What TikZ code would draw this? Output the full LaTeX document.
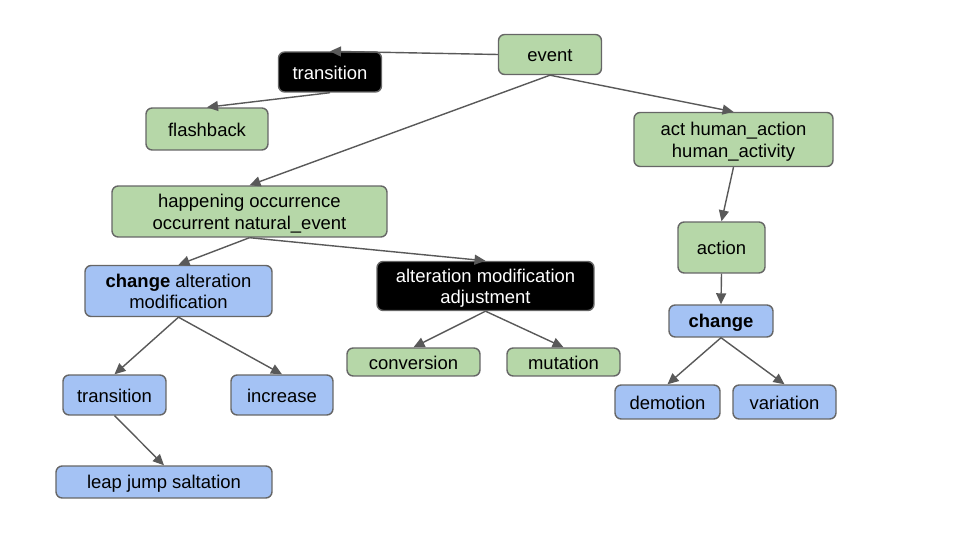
\documentclass[tikz,border=0pt]{standalone}
\usepackage{fontspec}
\setmainfont{Liberation Sans}
\usetikzlibrary{arrows.meta}

\definecolor{sagegreen}{HTML}{B6D7A8}
\definecolor{skyblue}{HTML}{A4C2F4}
\definecolor{edgegray}{HTML}{666666}
\definecolor{linegray}{HTML}{595959}

\begin{document}
\begin{tikzpicture}[x=0.02cm, y=-0.02cm,
    % base box
    box/.style={rectangle, draw=edgegray, line width=0.8pt, rounded corners=3.5pt,
                align=center, inner sep=0pt, font=\fontsize{10.5}{12.2}\selectfont,
                execute at begin node={\rule{0pt}{0.95em}},
                execute at end node={\rule[-0.17em]{0pt}{0pt}}},
    % two-line boxes sit a little lower
    twoline/.style={text height=22pt, text depth=2pt},
    % green synsets
    greenbox/.style={box, fill=sagegreen},
    % blue synsets
    bluebox/.style={box, fill=skyblue},
    % highlighted (black) synsets
    blackbox/.style={box, fill=black, text=white},
    arrow/.style={-{Triangle[length=2.2mm,width=2mm]}, line width=0.8pt, linegray}
]
\useasboundingbox (0,0) rectangle (960,540);

%-------- TOP --------
\node[greenbox, minimum width=2.06cm, minimum height=0.8cm] (event) at (550,54.5) {event};
\node[blackbox, minimum width=2.06cm, minimum height=0.8cm] (trans) at (330,72) {transition};
\node[greenbox, minimum width=2.44cm, minimum height=0.84cm] (flash) at (207,129) {flashback};

%-------- LEFT BRANCH --------
\node[greenbox, twoline, minimum width=5.5cm, minimum height=1.02cm] (happen) at (249.5,211.5)
    {happening occurrence\\occurrent natural\_event};
\node[bluebox, twoline, minimum width=3.74cm, minimum height=1.02cm] (change1) at (178.5,291)
    {\textbf{change} alteration\\modification};
\node[blackbox, twoline, minimum width=4.34cm, minimum height=0.98cm] (alter) at (485.5,286)
    {alteration modification\\adjustment};
\node[greenbox, minimum width=2.66cm, minimum height=0.56cm] (conv) at (413.5,362) {conversion};
\node[greenbox, minimum width=2.26cm, minimum height=0.56cm] (mut) at (563.5,362) {mutation};
\node[bluebox, minimum width=2.06cm, minimum height=0.8cm] (trans2) at (114.5,395) {transition};
\node[bluebox, minimum width=2.04cm, minimum height=0.8cm] (incr) at (282,395) {increase};
\node[bluebox, minimum width=4.32cm, minimum height=0.64cm] (leap) at (164,482) {leap jump saltation};

%-------- RIGHT BRANCH --------
\node[greenbox, twoline, minimum width=3.98cm, minimum height=1.08cm] (act) at (733.5,139.5)
    {act human\_action\\human\_activity};
\node[greenbox, minimum width=1.74cm, minimum height=1.02cm] (action) at (721.5,247.5) {action};
\node[bluebox, minimum width=2.08cm, minimum height=0.64cm] (change2) at (721,321) {\textbf{change}};
\node[bluebox, minimum width=2.1cm, minimum height=0.68cm] (demot) at (667.5,402) {demotion};
\node[bluebox, minimum width=2.06cm, minimum height=0.68cm] (vari) at (784.5,402) {variation};

%-------- ARROWS --------
\draw[arrow] (event.west)    -- (trans.north);
\draw[arrow] (trans.south)   -- (flash.north);
\draw[arrow] (event.south)   -- (happen.north);
\draw[arrow] (event.south)   -- (act.north);
\draw[arrow] (happen.south)  -- (change1.north);
\draw[arrow] (happen.south)  -- (alter.north);
\draw[arrow] (change1.south) -- (trans2.north);
\draw[arrow] (change1.south) -- (incr.north);
\draw[arrow] (trans2.south)  -- (leap.north);
\draw[arrow] (alter.south)   -- (conv.north);
\draw[arrow] (alter.south)   -- (mut.north);
\draw[arrow] (act.south)     -- (action.north);
\draw[arrow] (action.south)  -- (change2.north);
\draw[arrow] (change2.south) -- (demot.north);
\draw[arrow] (change2.south) -- (vari.north);

\end{tikzpicture}
\end{document}
